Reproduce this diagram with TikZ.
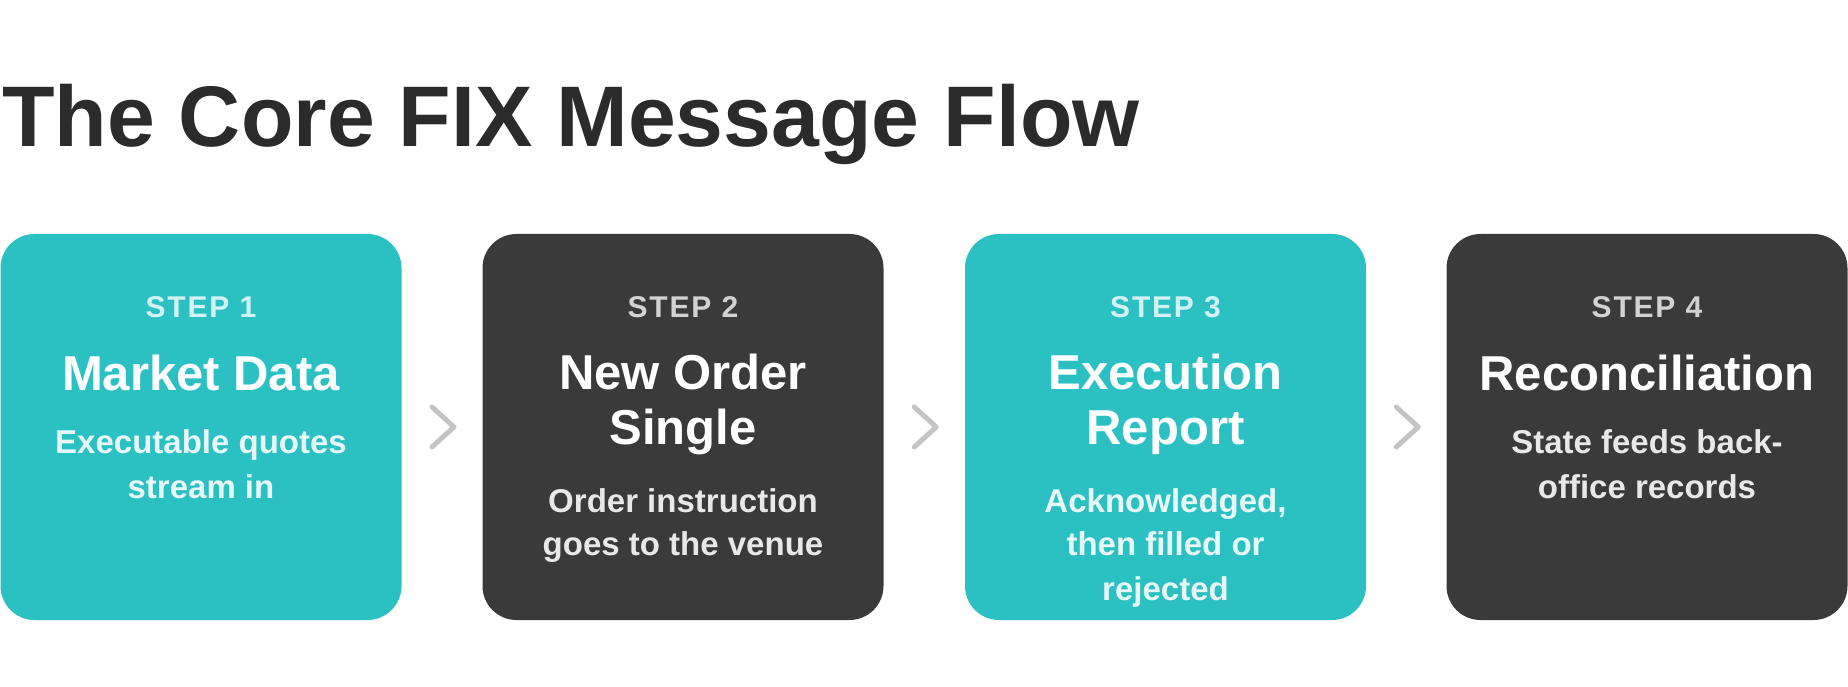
\documentclass[tikz,border=0pt]{standalone}
\usepackage{fontspec}
\setmainfont{Liberation Sans}
\newfontfamily\stepfont{Liberation Sans}[LetterSpace=6]
\usetikzlibrary{calc}
\definecolor{tealbox}{HTML}{2BC0C2}
\definecolor{darkbox}{HTML}{3A3A3A}
\definecolor{titlecol}{HTML}{2B2B2B}
\definecolor{chevcol}{HTML}{C4C4C4}
\definecolor{steponteal}{HTML}{D3F2F2}
\definecolor{subonteal}{HTML}{E6F8F8}
\definecolor{stepondark}{HTML}{D2D2D2}
\definecolor{subondark}{HTML}{E8E8E8}
\begin{document}
\begin{tikzpicture}[x=1pt,y=-1pt,
  box/.style={rectangle, rounded corners=34pt, minimum width=401pt, minimum height=386pt, inner sep=0pt, outer sep=0pt},
  tealstep/.style={box, fill=tealbox},
  darkstep/.style={box, fill=darkbox},
  steplabel/.style={anchor=base, inner sep=0pt, font=\stepfont\bfseries\fontsize{30}{36}\selectfont},
  boxtitle/.style={anchor=base, inner sep=0pt, text=white, font=\bfseries\fontsize{49}{58}\selectfont},
  boxsub/.style={anchor=base, inner sep=0pt, font=\bfseries\fontsize{33}{40}\selectfont},
  chevron/.style={draw=chevcol, line width=5pt, line cap=round, line join=round}
]
\useasboundingbox (0,0) rectangle (1848,687);
\node[anchor=base west, inner sep=0pt, text=titlecol, font=\bfseries\fontsize{86}{100}\selectfont] (title) at (2,147) {The Core FIX Message Flow};

\node[tealstep] (b1) at (201,427) {};
\node[darkstep] (b2) at (683,427) {};
\node[tealstep] (b3) at (1165.5,427) {};
\node[darkstep] (b4) at (1647,427) {};

% box 1
\node[steplabel, text=steponteal] (s1) at ($(b1.north)+(0,83)$) {STEP 1};
\node[boxtitle] (t1) at ($(b1.north)+(0,156)$) {Market Data};
\node[boxsub, text=subonteal] (d1a) at ($(b1.north)+(0,219)$) {Executable quotes};
\node[boxsub, text=subonteal] (d1b) at ($(b1.north)+(0,264)$) {stream in};

% box 2
\node[steplabel, text=stepondark] (s2) at ($(b2.north)+(0,83)$) {STEP 2};
\node[boxtitle] (t2a) at ($(b2.north)+(0,155)$) {New Order};
\node[boxtitle] (t2b) at ($(b2.north)+(0,210)$) {Single};
\node[boxsub, text=subondark] (d2a) at ($(b2.north)+(0,278)$) {Order instruction};
\node[boxsub, text=subondark] (d2b) at ($(b2.north)+(0,321)$) {goes to the venue};

% box 3
\node[steplabel, text=steponteal] (s3) at ($(b3.north)+(0,83)$) {STEP 3};
\node[boxtitle] (t3a) at ($(b3.north)+(0,155)$) {Execution};
\node[boxtitle] (t3b) at ($(b3.north)+(0,210)$) {Report};
\node[boxsub, text=subonteal] (d3a) at ($(b3.north)+(0,278)$) {Acknowledged,};
\node[boxsub, text=subonteal] (d3b) at ($(b3.north)+(0,321)$) {then filled or};
\node[boxsub, text=subonteal] (d3c) at ($(b3.north)+(0,366)$) {rejected};

% box 4
\node[steplabel, text=stepondark] (s4) at ($(b4.north)+(0,83)$) {STEP 4};
\node[boxtitle] (t4) at ($(b4.north)+(0,156)$) {Reconciliation};
\node[boxsub, text=subondark] (d4a) at ($(b4.north)+(0,219)$) {State feeds back-};
\node[boxsub, text=subondark] (d4b) at ($(b4.north)+(0,264)$) {office records};

% chevrons
\foreach \a/\b in {b1/b2, b2/b3, b3/b4} {
  \coordinate (m\a) at ($(\a.east)!0.5!(\b.west)$);
  \draw[chevron] ($(m\a)+(-10,-20)$) -- ($(m\a)+(12,0)$) -- ($(m\a)+(-10,20)$);
}
\end{tikzpicture}
\end{document}
